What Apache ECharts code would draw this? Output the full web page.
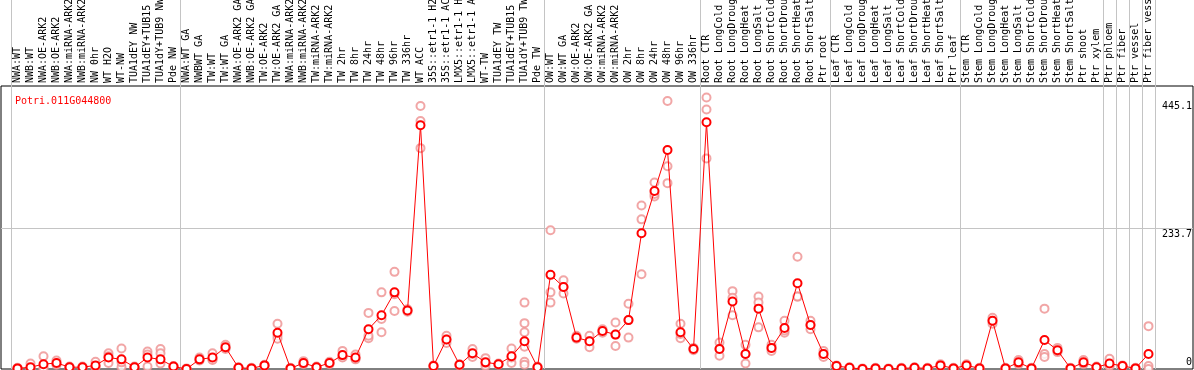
<!DOCTYPE html>
<html>
<head>
<meta charset="utf-8">
<script src="https://cdn.jsdelivr.net/npm/echarts@6/dist/echarts.min.js"></script>
<style>
html,body{margin:0;padding:0;background:#fff;}
#chart{width:1194px;height:370px;}
</style>
</head>
<body>
<div id="chart"></div>
<script>
const geneName = 'Potri.011G044800';
const categories = [
  'NWA:WT','NWB:WT','NWA:OE-ARK2','NWB:OE-ARK2','NWA:miRNA-ARK2','NWB:miRNA-ARK2','NW 0hr','WT H2O','WT-NW',
  'TUA1dEY NW','TUA1dEY+TUB15 NW','TUA1dY+TUB9 NW','Pde NW',
  'NWA:WT GA','NWBWT GA','TW:WT','TW:WT GA','NWA:OE-ARK2 GA','NWB:OE-ARK2 GA','TW:OE-ARK2','TW:OE-ARK2 GA',
  'NWA:miRNA-ARK2 ','NWB:miRNA-ARK2 ','TW:miRNA-ARK2','TW:miRNA-ARK2 ','TW 2hr','TW 8hr','TW 24hr','TW 48hr','TW 96hr','TW 336hr',
  'WT ACC','35S::etr1-1 H2O','35S::etr1-1 ACC','LMX5::etr1-1 H2O','LMX5::etr1-1 ACC','WT-TW','TUA1dEY TW','TUA1dEY+TUB15 TW','TUA1dY+TUB9 TW','Pde TW',
  'OW:WT','OW:WT GA','OW:OE-ARK2','OW:OE-ARK2 GA','OW:miRNA-ARK2','OW:miRNA-ARK2 ','OW 2hr','OW 8hr','OW 24hr','OW 48hr','OW 96hr','OW 336hr',
  'Root CTR','Root LongCold','Root LongDrought','Root LongHeat','Root LongSalt','Root ShortCold','Root ShortDrought','Root ShortHeat','Root ShortSalt','Ptr root',
  'Leaf CTR','Leaf LongCold','Leaf LongDrought','Leaf LongHeat','Leaf LongSalt','Leaf ShortCold','Leaf ShortDrought','Leaf ShortHeat','Leaf ShortSalt','Ptr leaf',
  'Stem CTR','Stem LongCold','Stem LongDrought','Stem LongHeat','Stem LongSalt','Stem ShortCold','Stem ShortDrought','Stem ShortHeat','Stem ShortSalt',
  'Ptr shoot','Ptr xylem','Ptr phloem','Ptr fiber','Ptr vessel','Ptr fiber vessel'
];
const meanValues = [
  1,3,8,10,3,3,6,19,16,3,19,16,4,
  0,16,19,36,2,1,6,60,1,10,3,10,23,19,66,89,127,97,404,5,49,7,26,11,8,21,46,3,
  156,136,52,46,63,57,81,225,295,363,61,33,
  409,33,112,25,100,35,68,142,73,25,
  5,2,0,1,0,1,2,1,6,1,
  6,1,80,1,11,1,48,31,1,
  11,3,9,5,1,25
];
const replicates = [
  [1,0,2],[9,1,0],[21,2,1],[14,8,7],[3,2,4],[3,2,4],[12,3,3],[26,10,21],[34,3,11],[3,2,4],[29,4,24],[33,26,9],[4,3,5],
  [0,0,1],[19,14,15],[26,16,15],[40,33,35],[2,1,3],[1,0,2],[6,5,7],[75,55,50],[1,0,2],[13,8,9],[3,2,4],[12,8,10],[30,20,19],[24,17,16],[93,51,55],
  [127,83,61],[161,96,124],[97,95,99],[436,411,366],[5,4,6],[55,43,49],[7,6,8],[33,20,25],[18,5,10],[8,7,9],[34,10,19],[110,76,61,37,12,7],[3,2,4],
  [230,127,110],[147,125,136],[55,50,52],[55,36,46],[63,60,66],[77,38,57],[108,52,81],[271,248,157],[309,286,290],[444,336,308],[75,51,58],[33,31,35],
  [450,430,349],[44,22,33],[129,89,118],[9,40,25],[120,69,110],[40,30,35],[80,60,64],[186,120,120],[80,66,73],[30,20,25],
  [5,4,6],[2,1,3],[0,0,1],[1,0,2],[0,0,1],[1,0,2],[2,1,3],[1,0,2],[8,5,5],[1,0,2],
  [8,5,5],[1,0,2],[85,75,80],[1,0,2],[15,8,10],[1,0,2],[100,25,20],[35,28,30],[1,0,2],
  [15,8,10],[3,2,4],[17,5,5],[6,4,5],[1,0,2],[71,5,0]
];
const yTickLabels = [0, 233.7, 445.1];
const groupBreaks = [0, 13, 41, 53, 63, 73, 84, 85, 86, 87, 88];

const FONT = 'DejaVu Sans Mono';
const SEP = '#c4c4c4';
const repData = [];
replicates.forEach((arr, i) => arr.forEach(v => repData.push([i, v])));

const chart = echarts.init(document.getElementById('chart'), null, {renderer: 'canvas'});
const catSplit = {
  show: true,
  interval: (idx) => groupBreaks.indexOf(idx) >= 0,
  lineStyle: {color: SEP, width: 1}
};
chart.setOption({
  animation: false,
  backgroundColor: '#fff',
  title: {
    text: geneName, left: 10, top: 91,
    textStyle: {color: '#ff0000', fontFamily: FONT, fontSize: 10, fontWeight: 'normal'}
  },
  grid: [
    {left: 11, right: 39, top: 86, bottom: 1, outerBoundsMode: 'none', containLabel: false},
    {left: 11, right: 39, top: 0, height: 86, outerBoundsMode: 'none', containLabel: false},
    {left: 1, right: 1, top: 86, bottom: 1, outerBoundsMode: 'none', containLabel: false,
     show: true, borderColor: '#000', borderWidth: 1, backgroundColor: 'transparent'}
  ],
  xAxis: [
    {gridIndex: 0, type: 'category', data: categories, position: 'top', boundaryGap: true,
     axisLine: {show: false}, axisTick: {show: false},
     axisLabel: {show: true, interval: 0, rotate: 90, margin: 3, color: '#000', fontFamily: FONT, fontSize: 10,
       hideOverlap: false},
     splitLine: catSplit},
    {gridIndex: 1, type: 'category', data: categories, boundaryGap: true,
     axisLine: {show: false}, axisTick: {show: false}, axisLabel: {show: false}, splitLine: catSplit},
    {gridIndex: 2, type: 'value', min: 0, max: 1, show: false}
  ],
  yAxis: [
    {gridIndex: 0, type: 'value', min: 0, max: 469, show: false},
    {gridIndex: 1, type: 'value', min: 0, max: 1, show: false},
    {gridIndex: 2, type: 'value', min: 0, max: 469, interval: 233.7, position: 'right',
     axisLine: {show: false}, axisTick: {show: false},
     axisLabel: {show: true, inside: true, margin: 1, customValues: yTickLabels,
       color: '#000', fontFamily: FONT, fontSize: 10, align: 'right',
       formatter: (v) => (v === 0 ? '{lo|0}' : '{hi|' + v + '}'),
       rich: {
         lo: {fontFamily: FONT, fontSize: 10, color: '#000', padding: [0, 0, 14, 0]},
         hi: {fontFamily: FONT, fontSize: 10, color: '#000', padding: [12, 0, 0, 0]}
       }},
     splitLine: {show: true, lineStyle: {color: ['rgba(0,0,0,0)', SEP, 'rgba(0,0,0,0)'], width: 1}}}
  ],
  series: [
    {type: 'scatter', xAxisIndex: 0, yAxisIndex: 0, data: repData, symbol: 'emptyCircle', symbolSize: 8,
     itemStyle: {color: '#ee9090', borderColor: '#ee9090', borderWidth: 1.2}, z: 3, silent: true},
    {type: 'line', xAxisIndex: 0, yAxisIndex: 0, data: meanValues, symbol: 'emptyCircle', symbolSize: 8,
     lineStyle: {color: '#ff0000', width: 1}, itemStyle: {color: '#ff0000', borderColor: '#ff0000', borderWidth: 1.5},
     z: 4, silent: true}
  ]
});
</script>
</body>
</html>
